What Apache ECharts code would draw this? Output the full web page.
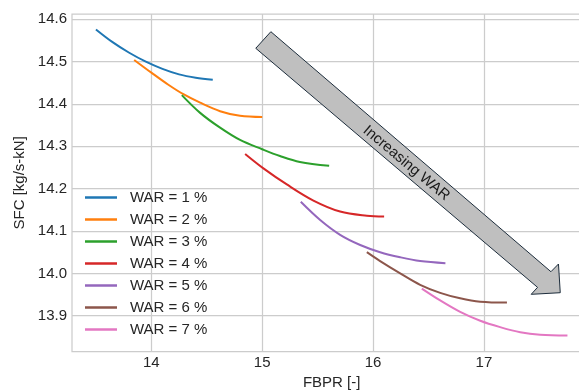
<!DOCTYPE html>
<html>
<head>
<meta charset="utf-8">
<script src="https://cdn.jsdelivr.net/npm/echarts@6/dist/echarts.min.js"></script>
<style>
  html, body { margin: 0; padding: 0; background: #ffffff; }
  #chart { width: 579px; height: 390px; }
</style>
</head>
<body>
<div id="chart"></div>
<script>
// SFC vs FBPR for increasing water-to-air ratio (WAR)
const seriesNames = ['WAR = 1 %', 'WAR = 2 %', 'WAR = 3 %', 'WAR = 4 %', 'WAR = 5 %', 'WAR = 6 %', 'WAR = 7 %'];
const seriesColors = ['#1f77b4', '#ff7f0e', '#2ca02c', '#d62728', '#9467bd', '#8c564b', '#e377c2'];

const war1 = [[13.50, 14.576], [13.65, 14.546], [13.80, 14.521], [13.95, 14.500], [14.10, 14.483], [14.25, 14.470], [14.40, 14.462], [14.554, 14.457]];
const war2 = [[13.845, 14.504], [14.0, 14.474], [14.15, 14.446], [14.289, 14.423], [14.44, 14.403], [14.62, 14.383], [14.80, 14.372], [15.0, 14.369]];
const war3 = [[14.275, 14.421], [14.44, 14.379], [14.62, 14.344], [14.80, 14.315], [15.0, 14.293], [15.16, 14.277], [15.34, 14.263], [15.604, 14.254]];
const war4 = [[14.846, 14.282], [15.011, 14.248], [15.222, 14.210], [15.462, 14.172], [15.703, 14.146], [15.944, 14.136], [16.10, 14.134]];
const war5 = [[15.348, 14.169], [15.523, 14.126], [15.703, 14.091], [15.884, 14.067], [16.064, 14.050], [16.245, 14.038], [16.425, 14.029], [16.653, 14.024]];
const war6 = [[15.944, 14.050], [16.064, 14.029], [16.245, 14.000], [16.425, 13.973], [16.606, 13.954], [16.786, 13.941], [16.967, 13.933], [17.208, 13.931]];
const war7 = [[16.440, 13.964], [16.606, 13.936], [16.786, 13.909], [16.967, 13.888], [17.147, 13.873], [17.328, 13.861], [17.508, 13.855], [17.754, 13.853]];
const allSeries = [war1, war2, war3, war4, war5, war6, war7];

const xTicks = [14, 15, 16, 17];
const yTicks = [13.9, 14.0, 14.1, 14.2, 14.3, 14.4, 14.5, 14.6];

// Annotation arrow outline (data units) and its label anchor
const arrowOutline = [[14.942, 14.5315], [15.078, 14.5707], [17.605, 14.0039], [17.673, 14.0221], [17.689, 13.9543], [17.427, 13.9505], [17.484, 13.967]];
const arrowLabel = { text: 'Increasing WAR', at: [16.30, 14.26], angleDeg: -40 };

const textColor = '#262626';
const gridColor = '#cccccc';
const fontFamily = '"Liberation Sans", Arial, sans-serif';

const chart = echarts.init(document.getElementById('chart'), null, { renderer: 'canvas' });

chart.setOption({
  animation: false,
  backgroundColor: '#ffffff',
  textStyle: { fontFamily: fontFamily },
  grid: {
    left: 72, top: 14, right: -12.4, bottom: 38.3,
    outerBoundsMode: 'none', containLabel: false,
    show: true, borderColor: gridColor, borderWidth: 1.25, backgroundColor: 'transparent'
  },
  xAxis: {
    type: 'value', min: 13.284, max: 17.97,
    name: 'FBPR [-]', nameLocation: 'middle', nameGap: 21,
    nameTextStyle: { fontSize: 15, color: textColor, fontFamily: fontFamily },
    axisLine: { show: false },
    axisTick: { show: false, customValues: xTicks },
    axisLabel: { customValues: xTicks, fontSize: 15, color: textColor, margin: 4, fontFamily: fontFamily },
    splitLine: { show: true, lineStyle: { color: gridColor, width: 1.25 } }
  },
  yAxis: {
    type: 'value', min: 13.815, max: 14.6125,
    name: 'SFC [kg/s-kN]', nameLocation: 'middle', nameGap: 42, nameRotate: 90,
    nameTextStyle: { fontSize: 15, color: textColor, fontFamily: fontFamily },
    axisLine: { show: false },
    axisTick: { show: false, customValues: yTicks },
    axisLabel: { customValues: yTicks, fontSize: 15, color: textColor, margin: 5, fontFamily: fontFamily,
      formatter: v => Number(v).toFixed(1) },
    splitLine: { show: true, lineStyle: { color: gridColor, width: 1.25 } }
  },
  legend: {
    orient: 'vertical', left: 85, top: 190, padding: 0,
    itemWidth: 32, itemHeight: 2.5, itemGap: 7, icon: 'rect',
    textStyle: { fontSize: 15, color: textColor, lineHeight: 15, padding: [0, 0, 0, 8], fontFamily: fontFamily },
    data: seriesNames
  },
  series: allSeries.map((d, i) => ({
    name: seriesNames[i],
    type: 'line',
    data: d,
    showSymbol: false,
    symbol: 'none',
    smooth: 0.35,
    color: seriesColors[i],
    lineStyle: { width: 2, color: seriesColors[i] },
    z: 3
  }))
});

// Arrow and its rotated label, placed via the chart's own coordinate conversion
const pts = arrowOutline.map(p => chart.convertToPixel({ gridIndex: 0 }, p));
const lbl = chart.convertToPixel({ gridIndex: 0 }, arrowLabel.at);
chart.setOption({
  graphic: [
    {
      type: 'polygon', z: 10,
      shape: { points: pts },
      style: { fill: '#bfbfbf', stroke: '#1d2d3c', lineWidth: 1 }
    },
    {
      type: 'text', z: 11,
      x: lbl[0], y: lbl[1],
      rotation: arrowLabel.angleDeg * Math.PI / 180,
      style: {
        text: arrowLabel.text, fill: '#1a1a1a', fontSize: 15, fontFamily: fontFamily,
        align: 'center', verticalAlign: 'middle'
      }
    }
  ]
});
</script>
</body>
</html>
